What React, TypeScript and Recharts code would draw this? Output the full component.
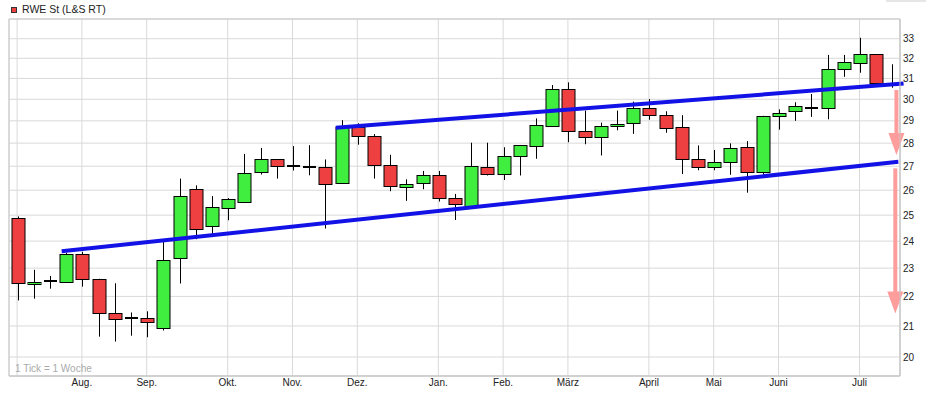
import React from 'react';
import {
  ComposedChart,
  Bar,
  XAxis,
  YAxis,
  CartesianGrid,
  ReferenceLine,
  ReferenceArea,
} from 'recharts';

// Weekly OHLC of "RWE St (L&S RT)"
const opens = [
  24.88, 22.42, 22.55, 22.52, 23.51, 22.6, 21.43, 21.25, 21.26, 20.93,
  23.36, 26.04, 24.57, 25.27, 25.52, 26.75, 27.29, 27.01, 26.98, 26.96,
  26.28, 28.74, 28.32, 27.04, 26.12, 26.28, 26.62, 25.68, 25.38, 26.96,
  26.67, 27.42, 27.86, 28.75, 30.48, 28.53, 28.26, 28.75, 28.89, 29.6,
  29.29, 28.7, 27.29, 26.96, 27.19, 27.82, 26.75, 29.24, 29.47, 29.6,
  29.6, 31.47, 31.77, 32.2, 30.74,
];
const highs = [
  24.95, 22.94, 22.72, 23.56, 23.6, 22.62, 22.46, 21.45, 21.49, 23.98,
  26.48, 26.2, 25.76, 25.68, 27.53, 27.79, 27.3, 27.87, 27.91, 27.29,
  29.03, 28.89, 28.4, 27.49, 26.45, 26.8, 26.8, 25.85, 28.02, 28.02,
  27.82, 27.92, 29.11, 30.68, 30.81, 29.47, 28.92, 29.47, 29.89, 30.01,
  29.44, 29.26, 27.9, 27.7, 27.99, 28.09, 29.23, 29.53, 29.86, 30.25,
  32.17, 32.17, 33.05, 32.21, 31.7,
];
const lows = [
  21.86, 21.92, 22.27, 22.5, 22.34, 20.65, 20.49, 20.68, 20.63, 20.85,
  22.45, 24.07, 24.26, 24.8, 25.48, 26.65, 26.48, 26.82, 26.62, 24.48,
  26.26, 27.93, 26.48, 25.96, 25.57, 26.04, 25.54, 24.81, 25.28, 26.61,
  26.42, 26.61, 27.32, 28.74, 28.04, 27.95, 27.46, 28.57, 28.41, 29.05,
  28.46, 26.67, 26.83, 26.83, 26.64, 25.9, 26.67, 28.6, 29.0, 29.18,
  29.07, 31.08, 31.28, 30.7, 30.55,
];
const closes = [
  22.46, 22.5, 22.55, 23.51, 22.6, 21.43, 21.23, 21.25, 21.12, 23.3,
  25.76, 24.47, 25.34, 25.63, 26.71, 27.29, 27.0, 27.01, 26.98, 26.24,
  28.74, 28.3, 27.04, 26.16, 26.24, 26.62, 25.68, 25.44, 27.0, 26.67,
  27.42, 27.9, 28.8, 30.48, 28.53, 28.26, 28.75, 28.87, 29.6, 29.29,
  28.66, 27.29, 26.97, 27.19, 27.78, 26.75, 29.23, 29.38, 29.67, 29.6,
  31.45, 31.8, 32.2, 30.76, 30.74,
];

const monthTickIdx = [0, 4, 8, 13, 17, 21, 26, 30, 34, 39, 43, 47, 52];
const monthLabels = ['', 'Aug.', 'Sep.', 'Okt.', 'Nov.', 'Dez.', 'Jan.', 'Feb.', 'März', 'April', 'Mai', 'Juni', 'Juli'];
const priceTicks = [20, 21, 22, 23, 24, 25, 26, 27, 28, 29, 30, 31, 32, 33];
const priceDomain = [19.41, 34.04];
const indexDomain = [-0.5, 54.5];

// trend channel (x = week index, y = price)
const upperTrend = [
  { x: 19.67, y: 28.69 },
  { x: 54.72, y: 30.75 },
];
const lowerTrend = [
  { x: 2.75, y: 23.62 },
  { x: 54.4, y: 27.19 },
];
const arrowShort = [
  { x: 54.28, y: 30.44 },
  { x: 54.28, y: 27.48 },
];
const arrowLong = [
  { x: 54.21, y: 26.91 },
  { x: 54.21, y: 21.42 },
];

const data = opens.map((o, i) => ({
  i,
  open: o,
  high: highs[i],
  low: lows[i],
  close: closes[i],
  range: [lows[i], highs[i]],
}));

const GREEN = '#40ee40';
const RED = '#ee4040';
const PINK = '#ff9c9c';
const BLUE = '#1212e6';
const GRID = '#d9d9d9';
const FONT = '"Liberation Sans", Arial, sans-serif';

const Candle = (props: any) => {
  const { x, y, width, height, payload } = props;
  if (x == null || y == null || !payload) return null;
  const y0 = Math.min(y, y + height);
  const h = Math.abs(height);
  const { open, close, high, low } = payload;
  const lh = Math.log(high);
  const ll = Math.log(low);
  const py = (v: number) => (high === low ? y0 : y0 + (h * (lh - Math.log(v))) / (lh - ll));
  const top = py(Math.max(open, close));
  const bot = py(Math.min(open, close));
  const cx = Math.round(x + width / 2) + 0.5;
  const bw = 13;
  const up = close >= open;
  const doji = Math.abs(close - open) < 0.005;
  return (
    <g>
      <line x1={cx} x2={cx} y1={y0} y2={y0 + h} stroke="#000" strokeWidth={1} />
      {doji ? (
        <rect x={cx - bw / 2} y={Math.round(top) - 1} width={bw} height={2} fill="#000" />
      ) : (
        <rect
          x={cx - bw / 2}
          y={Math.round(top) + 0.5}
          width={bw}
          height={Math.max(Math.round(bot) - Math.round(top), 1)}
          fill={up ? GREEN : RED}
          stroke="#000"
          strokeWidth={1}
        />
      )}
    </g>
  );
};

const Arrow = (p: any) => {
  const { x1, y1, x2, y2 } = p;
  if (x1 == null) return null;
  const head = 22;
  const hw = 8;
  return (
    <g>
      <line x1={x1} y1={y1} x2={x2} y2={y2 - head + 1} stroke={PINK} strokeWidth={4} />
      <polygon points={`${x2 - hw},${y2 - head} ${x2 + hw},${y2 - head} ${x2},${y2}`} fill={PINK} />
    </g>
  );
};

export default function App() {
  return (
    <div
      style={{
        position: 'absolute',
        left: 0,
        top: 0,
        width: 926,
        height: 393,
        background: '#fff',
        fontFamily: FONT,
      }}
    >
      <div
        style={{
          position: 'absolute',
          left: 886,
          top: 0,
          width: 40,
          height: 2,
          background: '#e6e6e6',
        }}
      />
      <div
        style={{
          position: 'absolute',
          left: 11,
          top: 7,
          width: 4,
          height: 4,
          background: RED,
          border: '1px solid #333',
        }}
      />
      <div
        style={{
          position: 'absolute',
          left: 22,
          top: 3,
          fontSize: 10.5,
          lineHeight: '12px',
          color: '#222',
          whiteSpace: 'nowrap',
        }}
      >
        RWE St (L&amp;S RT)
      </div>
      <ComposedChart
        width={926}
        height={393}
        data={data}
        margin={{ top: 19, right: 0, bottom: 0, left: 9 }}
      >
        <CartesianGrid stroke={GRID} />
        <XAxis
          dataKey="i"
          type="category"
          ticks={monthTickIdx}
          interval={0}
          tickFormatter={(v: any) => monthLabels[monthTickIdx.indexOf(Number(v))] ?? ''}
          height={17}
          tickLine={false}
          tickSize={0}
          tickMargin={3}
          axisLine={{ stroke: '#c8c8c8' }}
          tick={{ fontSize: 10, fill: '#222', fontFamily: FONT }}
        />
        <XAxis xAxisId="n" type="number" dataKey="i" domain={indexDomain} allowDataOverflow hide />
        <YAxis
          orientation="right"
          scale="log"
          domain={priceDomain}
          allowDataOverflow
          ticks={priceTicks}
          interval={0}
          width={26}
          tickLine={false}
          tickSize={0}
          tickMargin={3}
          axisLine={{ stroke: '#c8c8c8' }}
          tick={{ fontSize: 10, fill: '#222', fontFamily: FONT }}
        />
        <ReferenceArea
          xAxisId="n"
          x1={indexDomain[0]}
          x2={indexDomain[1]}
          y1={priceDomain[0]}
          y2={priceDomain[1]}
          fill="none"
          fillOpacity={0}
          stroke="#c8c8c8"
          ifOverflow="visible"
        />
        <Bar dataKey="range" shape={Candle} isAnimationActive={false} barSize={13} />
        <ReferenceLine xAxisId="n" segment={lowerTrend} stroke={BLUE} strokeWidth={4} ifOverflow="visible" />
        <ReferenceLine xAxisId="n" segment={upperTrend} stroke={BLUE} strokeWidth={4} ifOverflow="visible" />
        <ReferenceLine xAxisId="n" segment={arrowShort} shape={Arrow} ifOverflow="visible" />
        <ReferenceLine xAxisId="n" segment={arrowLong} shape={Arrow} ifOverflow="visible" />
      </ComposedChart>
      <div
        style={{
          position: 'absolute',
          left: 15,
          top: 363,
          fontSize: 10,
          lineHeight: '11px',
          color: '#aaa',
          whiteSpace: 'nowrap',
        }}
      >
        1 Tick = 1 Woche
      </div>
    </div>
  );
}
